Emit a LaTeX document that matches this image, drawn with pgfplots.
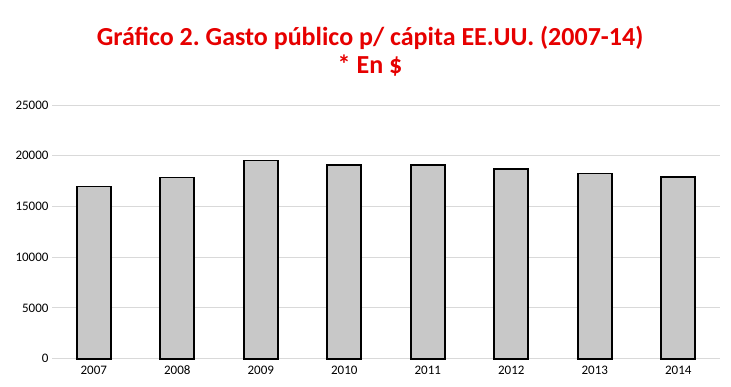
\documentclass[border=0pt]{standalone}
\usepackage{fontspec}
\setmainfont{Carlito}
\usepackage{pgfplots}
\pgfplotsset{compat=1.18}
\definecolor{titlered}{RGB}{230,0,0}
\definecolor{gridgray}{RGB}{217,217,217}
\definecolor{barfill}{RGB}{200,200,200}
\begin{document}
\frenchspacing
\begin{tikzpicture}
\path[use as bounding box] (0pt,0pt) rectangle (731pt,386pt);
\node[font=\fontsize{26}{30}\selectfont\bfseries, text=titlered, align=center] at (370pt,348pt) {Gráfico 2. Gasto público p/ cápita EE.UU. (2007-14)};
\node[font=\fontsize{26}{30}\selectfont\bfseries, text=titlered, align=center] at (370pt,320pt) {* En \$};
\begin{axis}[
  at={(52pt,27.3pt)}, anchor=south west,
  scale only axis, width=668pt, height=253.7pt,
  xmin=-0.5, xmax=7.5, ymin=0, ymax=25000,
  axis line style={draw=none},
  xtick=data, xticklabels={2007,2008,2009,2010,2011,2012,2013,2014},
  ytick={0,5000,10000,15000,20000,25000},
  major tick length=0pt,
  ymajorgrids, grid style={gridgray, line width=1pt},
  scaled y ticks=false,
  yticklabel style={/pgf/number format/1000 sep={}, font=\fontsize{13}{15}\selectfont, xshift=0pt},
  xticklabel style={font=\fontsize{13}{15}\selectfont, text height=9pt, text depth=1pt, yshift=-3pt},
  /pgf/number format/assume math mode=true,
  ybar, bar width=34pt,
  clip=false,
]
\addplot[fill=barfill, draw=black, line width=1.6pt] coordinates {
 (0,16960) (1,17850) (2,19520) (3,19100) (4,19100) (5,18720) (6,18250) (7,17880)};
\end{axis}
\end{tikzpicture}
\end{document}
